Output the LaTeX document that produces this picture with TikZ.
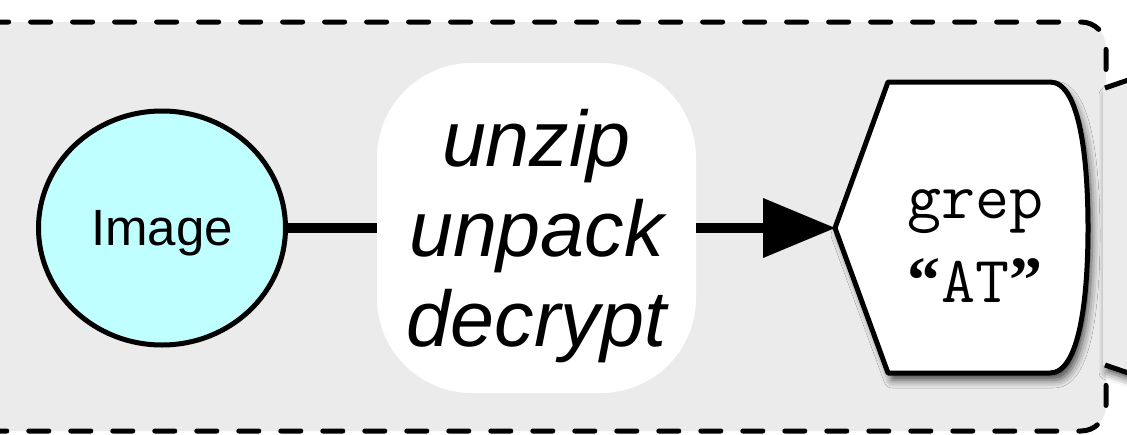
\documentclass[tikz,border=0pt]{standalone}
\usepackage{fontspec}
\setmainfont{Liberation Sans}
\newfontfamily\quotefont{Liberation Serif}
\usetikzlibrary{arrows.meta,shapes.geometric,shadows.blur}
\definecolor{panelgray}{HTML}{EBEBEB}
\definecolor{imagecyan}{HTML}{C0FFFF}
\newcommand{\typq}[1]{\makebox[0.525em]{\quotefont\bfseries #1}}
\begin{document}
\begin{tikzpicture}[x=1pt, y=-1pt,
		link/.style={line width=10pt},
		outline/.style={line width=5pt, line join=round},
		softshadow/.style={blur shadow={shadow xshift=4pt, shadow yshift=-7pt, shadow blur radius=8pt, shadow opacity=70}}]
		\useasboundingbox (0,0) rectangle (1127,434);
		\draw[fill=panelgray, line width=5pt, line cap=round, dash pattern=on 20pt off 22pt, rounded corners=25pt] (-60,22) rectangle (1106,431);
		% next stage, cut off at the right edge
		\fill[panelgray, softshadow] (1103,88) -- (1140,76) -- (1140,377) -- (1103,365) -- cycle;
		\draw[outline] (1105,88) -- (1140,76);
		\draw[outline] (1105,365) -- (1140,377);
		
		\node[ellipse, draw, outline, fill=imagecyan, minimum width=247pt, minimum height=234pt, text depth=0pt, font=\fontsize{51}{60}\selectfont] (image) at (162,228) {Image};
		\node[fill=white, rounded corners=95pt, minimum width=319pt, minimum height=330pt, align=center, text depth=0pt, font=\fontsize{79}{90}\selectfont\itshape] (unpack) at (536.5,228) {unzip\\unpack\\decrypt};
		\coordinate (greptip) at (835,228);
		\draw[link] (image) -- (unpack);
		\draw[link, -{Triangle[length=72pt, width=60pt, line width=0pt, fill=black]}] (unpack) -- (greptip);
		
		\draw[outline, fill=white, softshadow] (greptip) -- (888,82) -- (1050,82) .. controls (1080,82) and (1088,160) .. (1088,228) .. controls (1088,296) and (1080,373) .. (1050,373) -- (888,373) -- cycle;
		\node[align=center, text depth=0pt, font=\fontsize{66}{84}\selectfont\ttfamily] (grep) at (975,246) {grep\\\typq{“}AT\typq{”}};
\end{tikzpicture}
\end{document}
